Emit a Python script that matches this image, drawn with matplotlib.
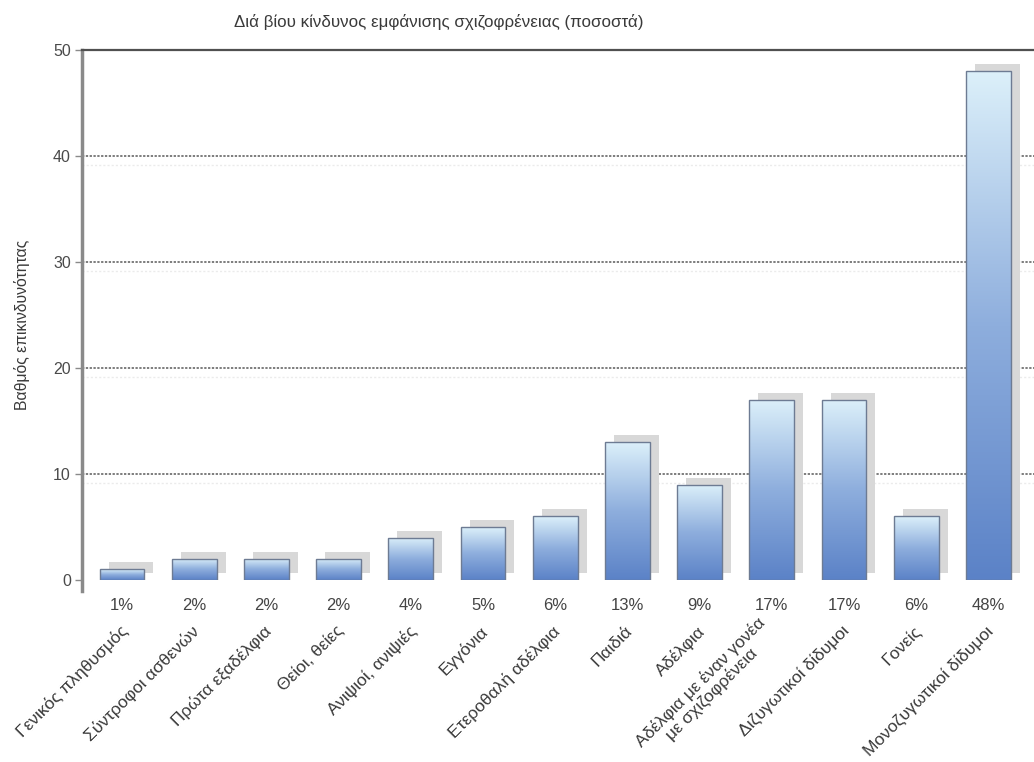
import numpy as np
import matplotlib
matplotlib.use("Agg")
import matplotlib.pyplot as plt
from matplotlib.colors import LinearSegmentedColormap
from matplotlib.transforms import ScaledTranslation

# Lifetime risk of schizophrenia by relationship to a patient
categories = [
    "Γενικός πληθυσμός",
    "Σύντροφοι ασθενών",
    "Πρώτα εξαδέλφια",
    "Θείοι, θείες",
    "Ανιψιοί, ανιψιές",
    "Εγγόνια",
    "Ετεροθαλή αδέλφια",
    "Παιδιά",
    "Αδέλφια",
    "Αδέλφια με έναν γονέα\nμε σχιζοφρένεια",
    "Διζυγωτικοί δίδυμοι",
    "Γονείς",
    "Μονοζυγωτικοί δίδυμοι",
]
risk_pct = [1, 2, 2, 2, 4, 5, 6, 13, 9, 17, 17, 6, 48]
y_ticks = [0, 10, 20, 30, 40, 50]

title = "Διά βίου κίνδυνος εμφάνισης σχιζοφρένειας (ποσοστά)"
y_label = "Βαθμός επικινδυνότητας"

plt.rcParams["font.family"] = ["Liberation Sans", "DejaVu Sans"]

W, H = 1034, 762
fig = plt.figure(figsize=(W / 100, H / 100), dpi=100)
ax = fig.add_axes([82 / W, 1 - 580 / H, 1 - 82 / W, (580 - 50) / H])

x = np.arange(len(categories))
width = 0.62

# soft grey drop shadow behind each bar, shifted up and to the right
shadow_shift = ScaledTranslation(9 / 100, 7 / 100, fig.dpi_scale_trans)
ax.bar(x, risk_pct, width, color="#d8d8d8", linewidth=0,
       transform=ax.transData + shadow_shift, zorder=1)

# bars with a vertical gradient: pale cyan at the top, blue at the base
cmap = LinearSegmentedColormap.from_list("bar_grad", ["#5b82c7", "#8eaedd", "#dcf0fa"])
grad = np.linspace(0, 1, 256).reshape(-1, 1)
bars = ax.bar(x, risk_pct, width, facecolor="none", edgecolor="#6d7b93",
              linewidth=1.0, zorder=4)
for bar in bars:
    x0, y0 = bar.get_x(), bar.get_y()
    w, h = bar.get_width(), bar.get_height()
    im = ax.imshow(grad, cmap=cmap, origin="lower", aspect="auto",
                   extent=(x0, x0 + w, y0, y0 + h), zorder=3,
                   interpolation="bilinear")
    im.set_clip_path(bar)

# dotted horizontal guides with a faint echo underneath
guide_trans = ax.get_yaxis_transform()
echo_trans = guide_trans + ScaledTranslation(0, -9 / 100, fig.dpi_scale_trans)
for yv in y_ticks[1:-1]:
    ax.plot([0, 1], [yv, yv], transform=guide_trans, color="#5a5a5a",
            linewidth=1.1, linestyle=(0, (1.5, 1)), zorder=0)
    ax.plot([0, 1], [yv, yv], transform=echo_trans, color="#ebebeb",
            linewidth=1.0, linestyle=(0, (1.5, 1.5)), zorder=0)

ax.set_xlim(-0.554, 12.63)
ax.set_ylim(0, 50)
ax.set_yticks(y_ticks)
ax.set_xticks([])
ax.tick_params(axis="y", length=5, width=1, color="#8a8a8a",
               labelsize=11.5, labelcolor="#4a4a4a", pad=3)

for side in ("right", "bottom"):
    ax.spines[side].set_visible(False)
ax.spines["left"].set_color("#8a8a8a")
ax.spines["left"].set_linewidth(2.5)
ax.spines["left"].set_bounds(-1, 50)
ax.spines["top"].set_color("#505050")
ax.spines["top"].set_linewidth(1.6)

# percentage under each bar and rotated category name below it
for xi, v, name in zip(x, risk_pct, categories):
    ax.annotate(f"{v}%", xy=(xi, 0), xytext=(0, -18.5), textcoords="offset points",
                ha="center", va="center", fontsize=12, color="#444444")
    extra = name.count("\n")
    ax.annotate(name, xy=(xi, 0), xytext=(-2 - 9 * extra, -31 + 6 * extra),
                textcoords="offset points",
                ha="right", va="top", rotation=45, rotation_mode="anchor",
                multialignment="center", linespacing=1.05,
                fontsize=12.5, color="#3a3a3a")

fig.text(439 / W, 1 - 22 / H, title, ha="center", va="center",
         fontsize=12.2, color="#3a3a3a")
fig.text(22 / W, 1 - 325 / H, y_label, ha="center", va="center",
         rotation=90, fontsize=11.3, color="#3a3a3a")

fig.savefig("out.png", dpi=100)
